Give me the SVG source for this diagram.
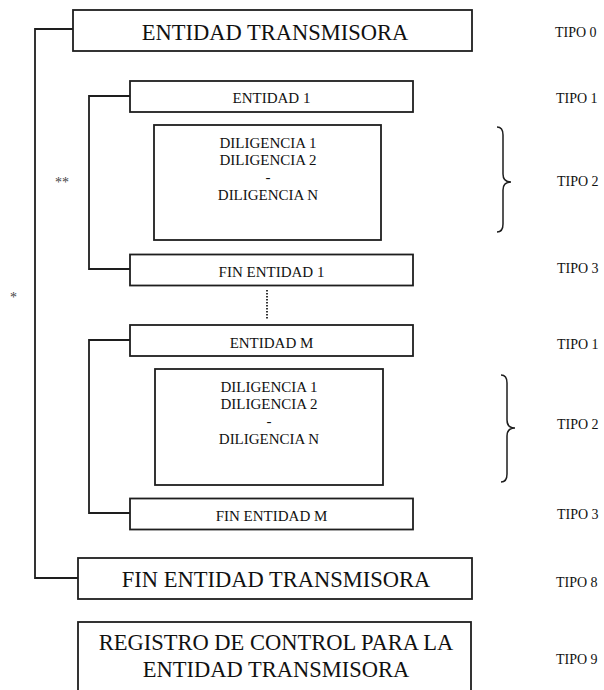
<svg xmlns="http://www.w3.org/2000/svg" width="604" height="690" viewBox="0 0 604 690">
<style>
.box{fill:#fff;stroke:#1e1e1e;stroke-width:1.8}
.ln{fill:none;stroke:#1e1e1e;stroke-width:1.8}
.br{fill:none;stroke:#1e1e1e;stroke-width:1.5}
text{font-family:"Liberation Serif","Times New Roman",serif;fill:#111}
.big{font-size:22.5px;text-anchor:middle}
.mid{font-size:15px;text-anchor:middle}
.tipo{font-size:14px}
.ast{font-size:14px;fill:#444}
</style>
<rect width="604" height="690" fill="#fff"/>
<g id="connectors">
<path class="ln" d="M73,29 H35 V578 H78"/>
<path class="ln" d="M130,96 H89 V269 H130"/>
<path class="ln" d="M130,340 H89 V513 H130"/>
<path class="ln" d="M267,290 V320" stroke-dasharray="1.5 1.5"/>
</g>
<g id="n0"><rect class="box" x="73" y="10" width="399" height="41"/><text class="big" x="275" y="40">ENTIDAD TRANSMISORA</text></g>
<g id="n1"><rect class="box" x="130" y="81" width="283" height="31"/><text class="mid" x="271.5" y="103">ENTIDAD 1</text></g>
<g id="n2"><rect class="box" x="154" y="125" width="227" height="115"/>
<text class="mid" x="268" y="147.5">DILIGENCIA 1</text><text class="mid" x="268" y="165">DILIGENCIA 2</text><text class="mid" x="268" y="182">-</text><text class="mid" x="268" y="199.5">DILIGENCIA N</text></g>
<g id="n3"><rect class="box" x="130" y="254.5" width="283" height="31"/><text class="mid" x="271.5" y="277">FIN ENTIDAD 1</text></g>
<g id="n4"><rect class="box" x="130" y="325" width="283" height="31"/><text class="mid" x="271.5" y="347.5">ENTIDAD M</text></g>
<g id="n5"><rect class="box" x="155" y="369" width="228" height="116"/>
<text class="mid" x="269" y="392">DILIGENCIA 1</text><text class="mid" x="269" y="409">DILIGENCIA 2</text><text class="mid" x="269" y="426">-</text><text class="mid" x="269" y="443.5">DILIGENCIA N</text></g>
<g id="n6"><rect class="box" x="130" y="498.5" width="283" height="31"/><text class="mid" x="271.5" y="521">FIN ENTIDAD M</text></g>
<g id="n7"><rect class="box" x="78" y="558" width="394" height="41"/><text class="big" x="276" y="587">FIN ENTIDAD TRANSMISORA</text></g>
<g id="n8"><rect class="box" x="78" y="622" width="393" height="90"/><text class="big" x="276" y="650">REGISTRO DE CONTROL PARA LA</text><text class="big" x="276" y="676.5">ENTIDAD TRANSMISORA</text></g>
<g id="braces">
<path class="br" d="M497,127 Q503,127 503,135 V174 Q503,182 511,182 Q503,182 503,190 V224 Q503,232 497,232"/>
<path class="br" d="M501,375 Q507,375 507,383 V420 Q507,428 515,428 Q507,428 507,436 V474 Q507,482 501,482"/>
</g>
<g id="labels">
<text class="tipo" x="555" y="37">TIPO 0</text>
<text class="tipo" x="556" y="103">TIPO 1</text>
<text class="tipo" x="557" y="186">TIPO 2</text>
<text class="tipo" x="557" y="273">TIPO 3</text>
<text class="tipo" x="557" y="349">TIPO 1</text>
<text class="tipo" x="557" y="429">TIPO 2</text>
<text class="tipo" x="557" y="519">TIPO 3</text>
<text class="tipo" x="556" y="587">TIPO 8</text>
<text class="tipo" x="556" y="664">TIPO 9</text>
<text class="ast" x="55" y="187">**</text>
<text class="ast" x="10" y="302">*</text>
</g>
</svg>
